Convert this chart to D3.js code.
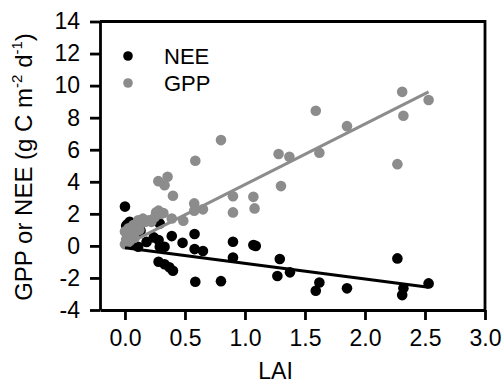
<!DOCTYPE html>
<html>
<head>
<meta charset="utf-8">
<script src="https://cdn.jsdelivr.net/npm/d3@7/dist/d3.min.js"></script>
<style>
  html, body { margin: 0; padding: 0; background: #fff; }
  svg text { font-family: "Liberation Sans", Arial, Helvetica, sans-serif; fill: #000; }
</style>
</head>
<body>
<svg id="chart" width="503" height="380"></svg>
<script>
// LAI (leaf area index) for each NEE observation
const neeLAI = [0.00, 0.01, 0.02, 0.04, 0.06, 0.03, 0.08, 0.05, 0.10, 0.13, 0.11, 0.07, 0.18, 0.02,
  0.24, 0.28, 0.29, 0.33, 0.29, 0.39, 0.48, 0.58, 0.58, 0.65, 0.90, 0.90, 1.07, 1.09,
  0.28, 0.33, 0.37, 0.40, 0.586, 0.80, 1.29, 1.27, 1.375, 1.62, 1.59, 1.85, 2.27, 2.32, 2.31, 2.53];
// Net ecosystem exchange (g C m-2 d-1)
const neeValues = [2.45, 1.25, 1.35, 1.50, 1.10, 0.90, 0.70, 0.40, 1.00, 0.95, -0.05, 0.10, 0.25, 0.50,
  0.53, 0.36, -0.05, -0.05, 1.40, 0.61, 0.19, 0.74, -0.20, -0.32, 0.26, -0.72, 0.05, 0.00,
  -0.99, -1.15, -1.34, -1.55, -2.24, -2.20, -0.82, -1.88, -1.65, -2.28, -2.80, -2.65, -0.78, -2.65, -3.07, -2.34];

// LAI for each GPP observation
const gppLAI = [0.00, 0.01, 0.02, 0.00, 0.03, 0.04, 0.05, 0.06, 0.07, 0.08, 0.10, 0.11, 0.12, 0.15,
  0.17, 0.20, 0.22, 0.25, 0.28, 0.30, 0.32, 0.26, 0.02, 0.04,
  0.278, 0.355, 0.33, 0.40, 0.39, 0.486, 0.577, 0.577, 0.65, 0.586, 0.80, 0.90, 0.90, 1.07, 1.08,
  1.28, 1.30, 1.37, 1.59, 1.62, 1.85, 2.27, 2.31, 2.32, 2.53];
// Gross primary production (g C m-2 d-1)
const gppValues = [0.10, 0.40, 0.70, 0.90, 1.10, 0.30, 0.60, 0.90, 1.30, 0.50, 1.20, 1.60, 1.00, 1.70,
  1.50, 1.60, 1.50, 1.80, 2.20, 2.00, 2.05, 2.10, 0.20, 0.80,
  4.04, 4.31, 3.79, 3.13, 1.71, 1.57, 2.65, 2.19, 2.28, 5.31, 6.60, 3.10, 2.09, 3.06, 2.34,
  5.73, 3.73, 5.56, 8.43, 5.81, 7.47, 5.10, 9.61, 8.12, 9.10];

// Linear fits: value = intercept + slope * LAI
const fitSeries = ["NEE", "GPP"];
const fitIntercepts = [-0.12, 0.05];
const fitSlopes = [-0.97, 3.78];

// Axis ticks
const xTicks = [0, 0.5, 1, 1.5, 2, 2.5, 3];
const xTickLabels = ["0.0", "0.5", "1.0", "1.5", "2.0", "2.5", "3.0"];
const yTicks = [-4, -2, 0, 2, 4, 6, 8, 10, 12, 14];
const yTickLabels = ["-4", "-2", "0", "2", "4", "6", "8", "10", "12", "14"];

const seriesColor = { NEE: "#000000", GPP: "#8c8c8c" };

const svg = d3.select("#chart");
const plotLeft = 100, plotRight = 485, plotTop = 21.5, plotBottom = 310;

const x = d3.scaleLinear().domain([-0.208, 3.0]).range([plotLeft, plotRight]);
const y = d3.scaleLinear().domain([-4, 14]).range([plotBottom, plotTop]);

// Frame (top and right edges)
svg.append("path")
  .attr("d", `M${plotLeft},${plotTop}H${plotRight}V${plotBottom}`)
  .attr("fill", "none").attr("stroke", "#000").attr("stroke-width", 2.8);

// Axes
const xAxis = d3.axisBottom(x).tickValues(xTicks)
  .tickFormat((d, i) => xTickLabels[i]).tickSize(10).tickSizeOuter(0).tickPadding(10);
const yAxis = d3.axisLeft(y).tickValues(yTicks)
  .tickFormat((d, i) => yTickLabels[i]).tickSize(10).tickSizeOuter(0).tickPadding(10);

const gx = svg.append("g").attr("transform", `translate(0,${plotBottom})`).call(xAxis);
const gy = svg.append("g").attr("transform", `translate(${plotLeft},0)`).call(yAxis);
[gx, gy].forEach(g => {
  g.select(".domain").attr("stroke-width", 2.8);
  g.selectAll(".tick line").attr("stroke-width", 2.8);
  g.selectAll(".tick text").attr("font-size", 23).attr("font-family", "Liberation Sans, Arial, sans-serif");
});

// Points
const neePts = neeLAI.map((v, i) => [v, neeValues[i]]);
const gppPts = gppLAI.map((v, i) => [v, gppValues[i]]);

svg.append("g").selectAll("circle").data(neePts).join("circle")
  .attr("cx", d => x(d[0])).attr("cy", d => y(d[1])).attr("r", 5.3)
  .attr("fill", seriesColor.NEE);
svg.append("g").selectAll("circle").data(gppPts).join("circle")
  .attr("cx", d => x(d[0])).attr("cy", d => y(d[1])).attr("r", 5.3)
  .attr("fill", seriesColor.GPP);

// Regression lines over the observed LAI range
const lineGen = d3.line().x(d => x(d[0])).y(d => y(d[1]));
fitSeries.forEach((s, i) => {
  const lais = s === "NEE" ? neeLAI : gppLAI;
  const ext = d3.extent(lais);
  const pts = ext.map(l => [l, fitIntercepts[i] + fitSlopes[i] * l]);
  svg.append("path").attr("d", lineGen(pts))
    .attr("fill", "none").attr("stroke", seriesColor[s]).attr("stroke-width", 3);
});

// Legend
const legend = svg.append("g");
fitSeries.forEach((s, i) => {
  const ly = 56 + i * 27;
  legend.append("circle").attr("cx", 128).attr("cy", ly).attr("r", 4.8).attr("fill", seriesColor[s]);
  legend.append("text").attr("x", 164).attr("y", ly + 7.5).attr("font-size", 22).text(s);
});

// Axis titles
svg.append("text").attr("x", x(1.255)).attr("y", 379).attr("text-anchor", "middle")
  .attr("font-size", 23).text("LAI");

const yt = svg.append("text").attr("transform", "translate(32,167) rotate(-90)")
  .attr("text-anchor", "middle").attr("font-size", 24);
yt.append("tspan").text("GPP or NEE (g C m");
yt.append("tspan").attr("font-size", 15).attr("dy", -10).text("-2");
yt.append("tspan").attr("dy", 10).text(" d");
yt.append("tspan").attr("font-size", 15).attr("dy", -10).text("-1");
yt.append("tspan").attr("dy", 10).text(")");
</script>
</body>
</html>
